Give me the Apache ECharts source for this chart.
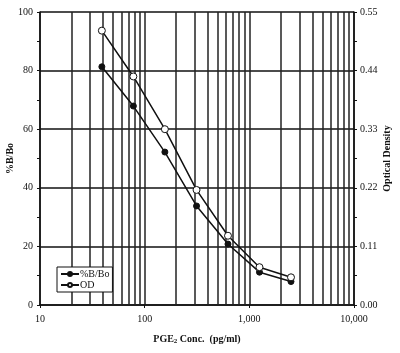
<!DOCTYPE html>
<html lang="en">
<head>
  <meta charset="UTF-8">
  <title>PGE2 standard curve</title>
  <script src="https://cdn.jsdelivr.net/npm/echarts@6/dist/echarts.min.js"></script>
  <style>
    html, body { margin: 0; padding: 0; background: #fff; }
  </style>
</head>
<body>
  <div id="chart" style="width: 400px;height: 353px;"></div>

  <script type="text/javascript">
    // PGE2 concentration (pg/ml)
    const conc = [39, 78, 156, 313, 625, 1250, 2500];
    // %B/Bo (left axis)
    const bbo = [81.3, 67.9, 52.2, 33.8, 20.8, 11.2, 8.0];
    // optical density (right axis)
    const od = [0.515, 0.429, 0.330, 0.216, 0.130, 0.071, 0.052];
    // in-between decade grid lines
    const minorX = [20, 30, 40, 50, 60, 70, 80, 90,
      200, 300, 400, 500, 600, 700, 800, 900,
      2000, 3000, 4000, 5000, 6000, 7000, 8000, 9000];

    const font = 'Liberation Serif';
    const ink = '#111';

    const myChart = echarts.init(document.getElementById('chart'));

    const option = {
      animation: false,
      textStyle: { fontFamily: font },
      grid: { left: 40, right: 46, top: 12, bottom: 48, outerBoundsMode: 'none', containLabel: false },
      legend: {
        orient: 'vertical',
        left: 57,
        top: 267,
        padding: [2, 3, 2, 3],
        itemGap: 1,
        itemWidth: 18,
        itemHeight: 5,
        borderColor: ink,
        borderWidth: 1,
        borderRadius: 0,
        backgroundColor: '#fff',
        textStyle: { fontFamily: font, fontSize: 10, color: ink, padding: [0, 0, 0, -4] },
        data: ['%B/Bo', 'OD'],
      },
      xAxis: {
        type: 'log',
        logBase: 10,
        min: 10,
        max: 10000,
        name: 'PGE{sub|2} Conc.  (pg/ml)',
        nameLocation: 'middle',
        nameGap: 29,
        nameMoveOverlap: false,
        nameTextStyle: {
          fontFamily: font, fontSize: 10, fontWeight: 'bold', color: ink,
          rich: { sub: { fontSize: 7, fontWeight: 'bold', verticalAlign: 'bottom', padding: [4, 0, 0, 0] } },
        },
        axisLine: { lineStyle: { color: ink, width: 1.5 } },
        axisTick: { show: true, length: 3, lineStyle: { color: ink } },
        axisLabel: {
          fontSize: 10, color: ink, margin: 9,
          formatter: v => v.toLocaleString('en-US'),
        },
        splitLine: { show: true, lineStyle: { color: '#222', width: 1.5 } },
      },
      yAxis: [
        {
          type: 'value',
          min: 0,
          max: 100,
          interval: 20,
          name: '%B/Bo',
          nameLocation: 'middle',
          nameGap: 25,
          nameMoveOverlap: false,
          nameTextStyle: { fontFamily: font, fontSize: 10, fontWeight: 'bold', color: ink },
          axisLine: { show: true, lineStyle: { color: ink, width: 1.5 } },
          axisTick: { show: true, length: 3, lineStyle: { color: ink } },
          minorTick: { show: true, splitNumber: 2, length: 3, lineStyle: { color: ink } },
          axisLabel: { fontSize: 10, color: ink, margin: 7 },
          splitLine: { show: true, lineStyle: { color: ink, width: 1.5 } },
        },
        {
          type: 'value',
          min: 0,
          max: 0.55,
          interval: 0.11,
          name: 'Optical Density',
          nameLocation: 'middle',
          nameGap: 28,
          nameMoveOverlap: false,
          nameTextStyle: { fontFamily: font, fontSize: 10, fontWeight: 'bold', color: ink },
          axisLine: { show: true, lineStyle: { color: ink, width: 1.5 } },
          axisTick: { show: true, length: 3, lineStyle: { color: ink } },
          minorTick: { show: true, splitNumber: 2, length: 3, lineStyle: { color: ink } },
          axisLabel: { fontSize: 10, color: ink, margin: 6, formatter: v => v.toFixed(2) },
          splitLine: { show: false },
        },
      ],
      series: [
        {
          name: '%B/Bo',
          type: 'line',
          yAxisIndex: 0,
          data: conc.map((c, i) => [c, bbo[i]]),
          symbol: 'circle',
          symbolSize: 6,
          itemStyle: { color: ink, borderColor: ink, borderWidth: 1 },
          lineStyle: { color: ink, width: 1.5 },
          z: 5,
          markLine: {
            silent: true,
            symbol: 'none',
            label: { show: false },
            lineStyle: { color: '#222', width: 1.5, type: 'solid' },
            data: minorX.map(v => ({ xAxis: v })),
            z: 1,
          },
        },
        {
          name: 'OD',
          type: 'line',
          yAxisIndex: 1,
          data: conc.map((c, i) => [c, od[i]]),
          symbol: 'circle',
          symbolSize: 7,
          itemStyle: { color: '#fff', borderColor: ink, borderWidth: 1 },
          lineStyle: { color: ink, width: 1.5 },
          z: 5,
        },
      ],
    };
    myChart.setOption(option);
  </script>
</body>
</html>
